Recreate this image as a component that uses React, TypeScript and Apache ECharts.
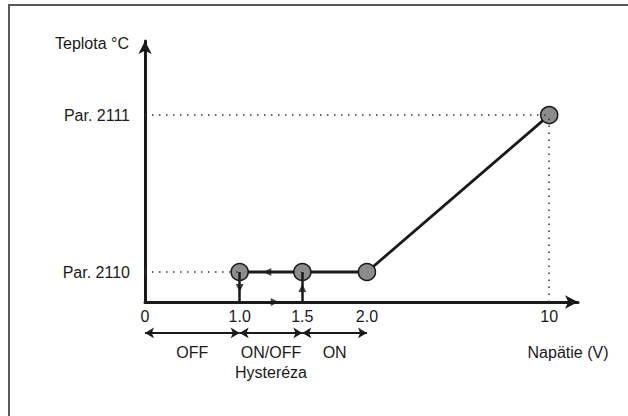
import React, { useEffect, useRef } from "react";
import * as echarts from "echarts";

// Voltage axis (schematic, non-linear): tick labels, their voltages and their axis stops
const xTickLabels = ["0", "1.0", "1.5", "2.0", "10"];
const xTickVolts = [0, 1.0, 1.5, 2.0, 10];
const xTickStops = [0, 1.48, 2.46, 3.47, 6.32];
const xAxisEnd = 6.77;

// Temperature axis (schematic): parameter levels and their axis stops
const yLevelLabels = ["Par. 2110", "Par. 2111"];
const yLevelStops = [1, 6.23];
const yAxisTop = 8.7;

// Characteristic curve
const curveVolts = [1.0, 1.5, 2.0, 10];
const curveLevels = ["Par. 2110", "Par. 2110", "Par. 2110", "Par. 2111"];

// Switching bands below the axis
const bandLabels = ["OFF", "ON/OFF", "ON"];
const bandFrom = [0, 1.0, 1.5];
const bandTo = [1.0, 1.5, 2.0];
const hysteresisLabel = "Hysteréza";
const bandAxisBottom = -3.8;
const bandArrowLevel = -1.03;
const bandTextLevel = -1.67;
const hysteresisTextLevel = -2.36;

// Direction markers on the hysteresis loop
const markerVolts = [1.22, 1.0, 1.5, 1.28];
const markerLevels = [1, 0.47, 0.47, 0];
const markerDirs = ["left", "down", "up", "right"];

const FONT = '"Liberation Sans", Arial, sans-serif';
const FS = 16;
const INK = "#1a1a1a";

function xAt(v: number): number {
  for (let i = 0; i < xTickVolts.length - 1; i++) {
    const a = xTickVolts[i];
    const b = xTickVolts[i + 1];
    if (v >= a && v <= b) {
      const t = (v - a) / (b - a);
      return xTickStops[i] + t * (xTickStops[i + 1] - xTickStops[i]);
    }
  }
  return xTickStops[xTickStops.length - 1];
}
function yAt(label: string): number {
  return yLevelStops[yLevelLabels.indexOf(label)];
}

const rot: Record<string, number> = { up: 0, left: 90, down: 180, right: -90 };

export default function App() {
  const ref = useRef<HTMLDivElement>(null);
  useEffect(() => {
    if (!ref.current) return;
    const chart = echarts.init(ref.current, undefined, { renderer: "svg" });

    const curve = curveVolts.map((v, i) => [xAt(v), yAt(curveLevels[i])]);
    const p2110 = yAt("Par. 2110");
    const p2111 = yAt("Par. 2111");
    const x10 = xAt(10);
    const x1 = xAt(1.0);
    const x15 = xAt(1.5);

    const guideLines = [
      [{ coord: [0, p2110] }, { coord: [x1, p2110] }],
      [{ coord: [0, p2111] }, { coord: [x10, p2111] }],
      [{ coord: [x10, 0] }, { coord: [x10, p2111] }],
    ];
    const transitionLines = [
      [{ coord: [x1, p2110] }, { coord: [x1, 0] }],
      [{ coord: [x15, 0] }, { coord: [x15, p2110] }],
    ];
    const bandLines = bandFrom.map((f, i) => [
      { coord: [xAt(f), bandArrowLevel] },
      { coord: [xAt(bandTo[i]), bandArrowLevel] },
    ]);
    const markers = markerVolts.map((v, i) => ({
      value: [xAt(v), markerLevels[i]],
      symbolRotate: rot[markerDirs[i]],
    }));
    const bandTexts = bandLabels.map((l, i) => ({
      value: [(xAt(bandFrom[i]) + xAt(bandTo[i])) / 2, bandTextLevel],
      name: l,
    }));
    bandTexts.push({
      value: [(x1 + x15) / 2, hysteresisTextLevel],
      name: hysteresisLabel,
    });

    const labelFmt = (stops: number[], labels: string[]) => (val: number) => {
      const i = stops.findIndex((s) => Math.abs(s - val) < 1e-6);
      return i >= 0 ? labels[i] : "";
    };

    const option: any = {
      animation: false,
      backgroundColor: "#ffffff",
      textStyle: { fontFamily: FONT },
      grid: [
        { left: 145, right: 628 - 578, top: 41, bottom: 416 - 302, outerBoundsMode: "none", containLabel: false },
        { left: 145, right: 628 - 578, top: 302, bottom: 0, outerBoundsMode: "none", containLabel: false },
      ],
      xAxis: [
        {
          type: "value",
          gridIndex: 0,
          min: 0,
          max: xAxisEnd,
          axisLine: {
            show: true,
            onZero: false,
            symbol: ["none", "arrow"],
            symbolSize: [10, 13],
            lineStyle: { color: INK, width: 3 },
          },
          axisTick: { show: false },
          splitLine: { show: false },
          axisLabel: {
            customValues: xTickStops,
            margin: 6,
            color: INK,
            fontSize: FS,
            fontFamily: FONT,
            formatter: labelFmt(xTickStops, xTickLabels),
          },
        },
        {
          type: "value",
          gridIndex: 1,
          min: 0,
          max: xAxisEnd,
          show: false,
        },
      ],
      yAxis: [
        {
          type: "value",
          gridIndex: 0,
          min: 0,
          max: yAxisTop,
          axisLine: {
            show: true,
            onZero: false,
            symbol: ["none", "arrow"],
            symbolSize: [10, 13],
            lineStyle: { color: INK, width: 3 },
          },
          axisTick: { show: false },
          splitLine: { show: false },
          axisLabel: {
            customValues: yLevelStops,
            margin: 15,
            color: INK,
            fontSize: FS,
            fontFamily: FONT,
            formatter: labelFmt(yLevelStops, yLevelLabels),
          },
        },
        {
          type: "value",
          gridIndex: 1,
          min: bandAxisBottom,
          max: 0,
          show: false,
        },
      ],
      graphic: [
        {
          type: "polyline",
          shape: { points: [[9, 420], [9, 5], [630, 5]] },
          style: { stroke: "#5a5a5a", lineWidth: 2, fill: "none" },
          silent: true,
        },
        {
          type: "text",
          x: 129,
          y: 43,
          style: {
            text: "Teplota °C",
            fill: INK,
            font: `${FS}px ${FONT}`,
            textAlign: "right",
            textVerticalAlign: "middle",
          },
        },
        {
          type: "text",
          x: 568,
          y: 352,
          style: {
            text: "Napätie (V)",
            fill: INK,
            font: `${FS}px ${FONT}`,
            textAlign: "center",
            textVerticalAlign: "middle",
          },
        },
      ],
      series: [
        {
          name: "guides",
          type: "line",
          xAxisIndex: 0,
          yAxisIndex: 0,
          z: 1,
          data: [],
          showSymbol: false,
          markLine: {
            silent: true,
            symbol: "none",
            label: { show: false },
            lineStyle: { color: "#333", width: 1.5, type: [1.5, 5.5] },
            data: guideLines,
          },
        },
        {
          name: "transitions",
          type: "line",
          xAxisIndex: 0,
          yAxisIndex: 0,
          z: 2,
          data: [],
          showSymbol: false,
          markLine: {
            silent: true,
            symbol: "none",
            label: { show: false },
            lineStyle: { color: INK, width: 2.5, type: "solid" },
            data: transitionLines,
          },
        },
        {
          name: "curve",
          type: "line",
          xAxisIndex: 0,
          yAxisIndex: 0,
          z: 4,
          clip: false,
          data: curve,
          symbol: "circle",
          symbolSize: 17,
          showSymbol: true,
          lineStyle: { color: INK, width: 2.8 },
          itemStyle: { color: "#8c8c8c", borderColor: INK, borderWidth: 1.5 },
        },
        {
          name: "markers",
          type: "scatter",
          xAxisIndex: 0,
          yAxisIndex: 0,
          z: 5,
          clip: false,
          symbol: "triangle",
          symbolSize: [8, 8],
          itemStyle: { color: INK },
          data: markers,
        },
        {
          name: "bands",
          type: "line",
          xAxisIndex: 1,
          yAxisIndex: 1,
          z: 2,
          data: [],
          showSymbol: false,
          markLine: {
            silent: true,
            symbol: ["arrow", "arrow"],
            symbolSize: [8, 9],
            label: { show: false },
            lineStyle: { color: INK, width: 1.8, type: "solid" },
            data: bandLines,
          },
        },
        {
          name: "bandText",
          type: "scatter",
          xAxisIndex: 1,
          yAxisIndex: 1,
          z: 5,
          symbolSize: 0,
          itemStyle: { color: INK, opacity: 1 },
          label: {
            show: true,
            position: "inside",
            formatter: (p: any) => p.name,
            color: INK,
            opacity: 1,
            textBorderWidth: 0,
            fontSize: FS,
            fontFamily: FONT,
          },
          data: bandTexts,
        },
      ],
    };
    chart.setOption(option);
    return () => chart.dispose();
  }, []);
  return (
    <div
      ref={ref}
      style={{ position: "absolute", left: 0, top: 0, width: 628, height: 416 }}
    />
  );
}
